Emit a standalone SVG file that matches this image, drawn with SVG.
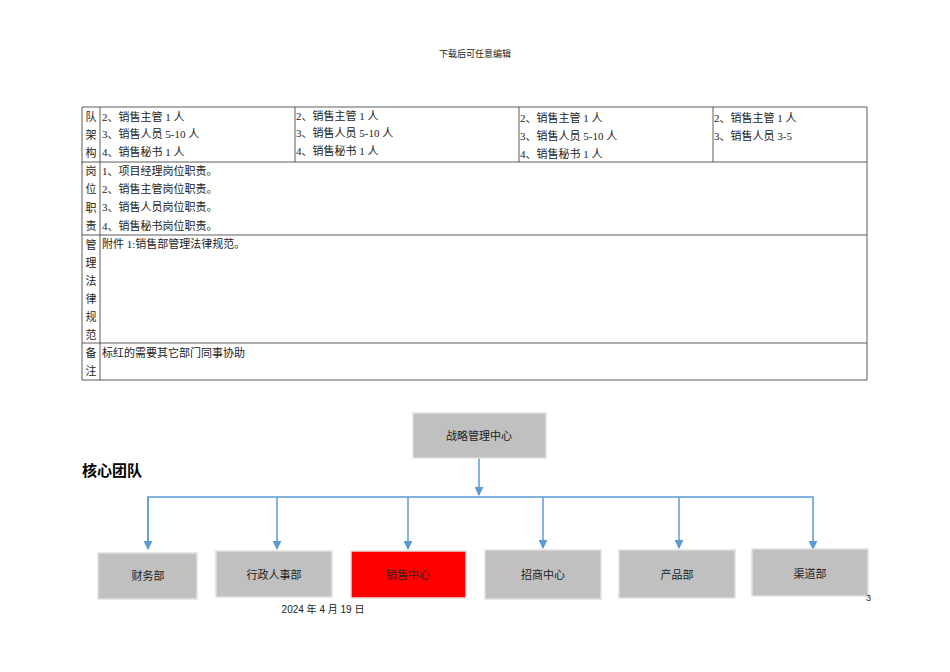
<svg xmlns="http://www.w3.org/2000/svg" width="950" height="672" viewBox="0 0 950 672">
<defs>
<style>
text{font-family:"Liberation Serif","Noto Sans CJK SC",serif;font-size:11px;fill:#222}
.c{text-anchor:middle}
.b{fill:#c0c0c0;stroke:#e0e0e0;stroke-width:1.5}
.t line{stroke:#333;stroke-width:0.8}
.k{stroke:#5b9bd5;stroke-width:1.5;fill:none}
</style>
<marker id="a" viewBox="0 0 10 10" refX="9" refY="5" markerWidth="6" markerHeight="6" orient="auto"><path d="M0,0L10,5L0,10z" fill="#5b9bd5"/></marker>
</defs>
<rect width="950" height="672" fill="#fff"/>
<text x="475" y="57" class="c" style="font-size:9px">下载后可任意编辑</text>
<g class="t">
<line x1="82" y1="107" x2="867" y2="107"/><line x1="82" y1="162" x2="867" y2="162"/>
<line x1="82" y1="235" x2="867" y2="235"/><line x1="82" y1="343" x2="867" y2="343"/>
<line x1="82" y1="380" x2="867" y2="380"/>
<line x1="82" y1="107" x2="82" y2="380"/><line x1="100" y1="107" x2="100" y2="380"/>
<line x1="867" y1="107" x2="867" y2="380"/>
<line x1="295" y1="107" x2="295" y2="162"/><line x1="519" y1="107" x2="519" y2="162"/><line x1="713" y1="107" x2="713" y2="162"/>
</g>
<g>
<text x="91" y="121" class="c">队</text><text x="91" y="139" class="c">架</text><text x="91" y="157" class="c">构</text>
<text x="102" y="121">2、销售主管 1 人</text><text x="102" y="138">3、销售人员 5-10 人</text><text x="102" y="156">4、销售秘书 1 人</text>
<text x="296" y="120">2、销售主管 1 人</text><text x="296" y="137">3、销售人员 5-10 人</text><text x="296" y="155">4、销售秘书 1 人</text>
<text x="520" y="122">2、销售主管 1 人</text><text x="520" y="140">3、销售人员 5-10 人</text><text x="520" y="158">4、销售秘书 1 人</text>
<text x="714" y="122">2、销售主管 1 人</text><text x="714" y="140">3、销售人员 3-5</text>
<text x="91" y="175" class="c">岗</text><text x="91" y="193" class="c">位</text><text x="91" y="212" class="c">职</text><text x="91" y="230" class="c">责</text>
<text x="102" y="175">1、项目经理岗位职责。</text><text x="102" y="193">2、销售主管岗位职责。</text><text x="102" y="211">3、销售人员岗位职责。</text><text x="102" y="230">4、销售秘书岗位职责。</text>
<text x="91" y="249" class="c">管</text><text x="91" y="267" class="c">理</text><text x="91" y="285" class="c">法</text><text x="91" y="303" class="c">律</text><text x="91" y="321" class="c">规</text><text x="91" y="339" class="c">范</text>
<text x="102" y="248">附件 1:销售部管理法律规范。</text>
<text x="91" y="357" class="c">备</text><text x="91" y="375" class="c">注</text>
<text x="102" y="357">标红的需要其它部门同事协助</text>
</g>
<text x="82" y="476" style="font-family:'Liberation Sans','Noto Sans CJK SC',sans-serif;font-size:15px;font-weight:bold;fill:#000">核心团队</text>
<g id="connectors">
<line class="k" x1="479" y1="458" x2="479" y2="495" marker-end="url(#a)"/>
<polyline class="k" points="148,549 148,497 813,497 813,549" marker-end="url(#a)"/>
<line class="k" x1="148" y1="497" x2="148" y2="549" marker-end="url(#a)"/>
<line class="k" x1="277" y1="497" x2="277" y2="549" marker-end="url(#a)"/>
<line class="k" x1="408" y1="497" x2="408" y2="549" marker-end="url(#a)"/>
<line class="k" x1="543" y1="497" x2="543" y2="548" marker-end="url(#a)"/>
<line class="k" x1="679" y1="497" x2="679" y2="548" marker-end="url(#a)"/>
</g>
<g id="n0"><rect class="b" x="413" y="413" width="133" height="45"/><text x="479" y="440" class="c">战略管理中心</text></g>
<g id="n1"><rect class="b" x="98" y="553" width="99" height="46"/><text x="148" y="580" class="c">财务部</text></g>
<g id="n2"><rect class="b" x="216" y="551" width="116" height="46"/><text x="274" y="579" class="c">行政人事部</text></g>
<g id="n3"><rect x="351" y="551" width="115" height="47" fill="#ff0000" stroke="#e0e0e0" stroke-width="1.5"/><text x="408" y="579" class="c">销售中心</text></g>
<g id="n4"><rect class="b" x="485" y="550" width="116" height="49" fill="#c0c0c0"/><text x="543" y="579" class="c">招商中心</text></g>
<g id="n5"><rect class="b" x="619" y="550" width="116" height="48"/><text x="677" y="579" class="c">产品部</text></g>
<g id="n6"><rect class="b" x="752" y="549" width="116" height="47"/><text x="810" y="578" class="c">渠道部</text></g>
<text x="866" y="601" style="font-family:'Liberation Sans',sans-serif;font-size:9px">3</text>
<text x="323" y="613" class="c" style="font-family:'Liberation Sans','Noto Sans CJK SC',sans-serif;font-size:10px">2024 年 4 月 19 日</text>
</svg>
